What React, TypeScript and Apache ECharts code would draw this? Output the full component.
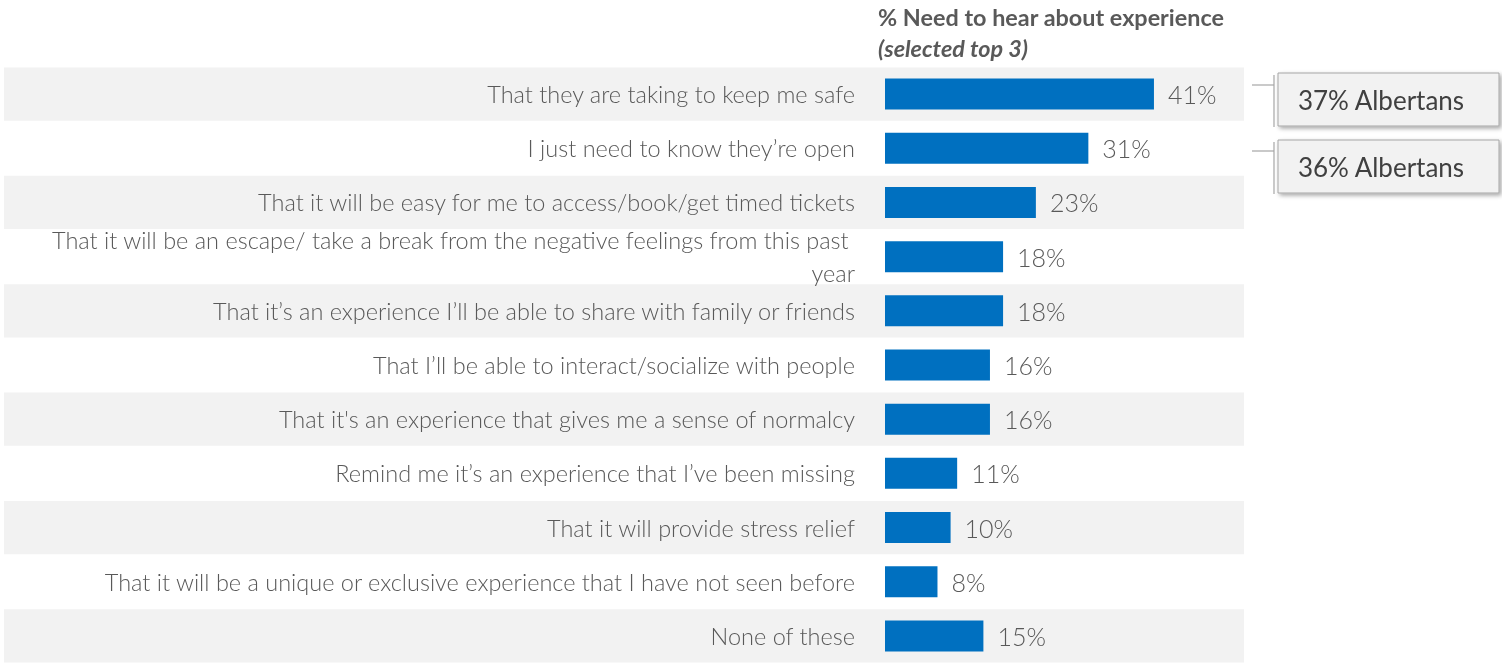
import React, { useEffect, useRef } from "react";
import * as echarts from "echarts";

const categories = [
  "That they are taking to keep me safe",
  "I just need to know they’re open",
  "That it will be easy for me to access/book/get timed tickets",
  "That it will be an escape/ take a break from the negative feelings from this past year",
  "That it’s an experience I’ll be able to share with family or friends",
  "That I’ll be able to interact/socialize with people",
  "That it's an experience that gives me a sense of normalcy",
  "Remind me it’s an experience that I’ve been missing",
  "That it will provide stress relief",
  "That it will be a unique or exclusive experience that I have not seen before",
  "None of these",
];
const values = [41, 31, 23, 18, 18, 16, 16, 11, 10, 8, 15];
const albertans = [37, 36];
const titleLine1 = "% Need to hear about experience";
const titleLine2 = "(selected top 3)";

const TEXT = "#595959";
const FONT = "Lato";

export default function App() {
  const ref = useRef<HTMLDivElement>(null);
  useEffect(() => {
    if (!ref.current) return;
    const chart = echarts.init(ref.current, undefined, { renderer: "svg" });
    const stripeRows = categories.map((_, i) => i).filter((i) => i % 2 === 0);
    const boxes = albertans.map((v, i) => {
      const top = i === 0 ? 73 : 140;
      const lineY = i === 0 ? 85 : 151;
      return {
        type: "group",
        children: [
          {
            type: "rect",
            shape: { x: 1278, y: top, width: 221, height: 53 },
            style: {
              fill: "#f2f2f2",
              stroke: "#a6a6a6",
              lineWidth: 1,
              shadowBlur: 4,
              shadowOffsetX: 2,
              shadowOffsetY: 2,
              shadowColor: "rgba(0,0,0,0.35)",
            },
          },
          {
            type: "line",
            shape: { x1: 1274, y1: top + 2, x2: 1274, y2: top + 54 },
            style: { stroke: "#a6a6a6", lineWidth: 1.2 },
          },
          {
            type: "line",
            shape: { x1: 1252, y1: lineY, x2: 1274, y2: lineY },
            style: { stroke: "#a6a6a6", lineWidth: 1.2 },
          },
          {
            type: "text",
            x: 1381,
            y: top + 27,
            style: {
              text: `${v}% Albertans`,
              fontSize: 26,
              fontFamily: FONT,
              fontWeight: 400,
              fill: "#404040",
              align: "center",
              verticalAlign: "middle",
            },
          },
        ],
      };
    });
    chart.setOption({
      animation: false,
      grid: { left: 885, top: 67, width: 328, height: 599 },
      xAxis: { type: "value", min: 0, max: 50, show: false },
      yAxis: {
        type: "category",
        data: categories,
        inverse: true,
        axisLine: { show: false },
        axisTick: { show: false },
        splitLine: { show: false },
        axisLabel: {
          margin: 30,
          fontSize: 23.5,
          fontWeight: 300,
          fontFamily: FONT,
          color: TEXT,
          width: 815,
          overflow: "break",
          lineHeight: 33,
        },
      },
      series: [
        {
          type: "custom",
          silent: true,
          z: 0,
          clip: false,
          data: stripeRows.map((i) => [0, i]),
          encode: { x: 0, y: 1 },
          renderItem: (params: any, api: any) => {
            const p = api.coord([0, api.value(1)]);
            const h = api.size([0, 1])[1];
            return {
              type: "rect",
              shape: { x: 4, y: p[1] - h / 2 + 0.5, width: 1240, height: h - 1 },
              style: { fill: "#f2f2f2" },
            };
          },
        },
        {
          type: "bar",
          z: 2,
          data: values,
          barWidth: 31,
          itemStyle: { color: "#0070c0" },
          label: {
            show: true,
            position: "right",
            distance: 14,
            formatter: "{c}%",
            fontSize: 25,
            fontFamily: FONT,
            fontWeight: 300,
            color: TEXT,
          },
        },
      ],
      graphic: [
        {
          type: "text",
          x: 878,
          y: 5,
          style: {
            text: titleLine1,
            fontSize: 23.4,
            fontWeight: "bold",
            fontFamily: FONT,
            fill: TEXT,
          },
        },
        {
          type: "text",
          x: 878,
          y: 36,
          style: {
            text: titleLine2,
            fontSize: 23.4,
            fontWeight: "bold",
            fontStyle: "italic",
            fontFamily: FONT,
            fill: TEXT,
          },
        },
        ...boxes,
      ],
    });
    return () => chart.dispose();
  }, []);
  return (
    <div
      ref={ref}
      style={{ position: "fixed", left: 0, top: 0, width: 1502, height: 663 }}
    />
  );
}
